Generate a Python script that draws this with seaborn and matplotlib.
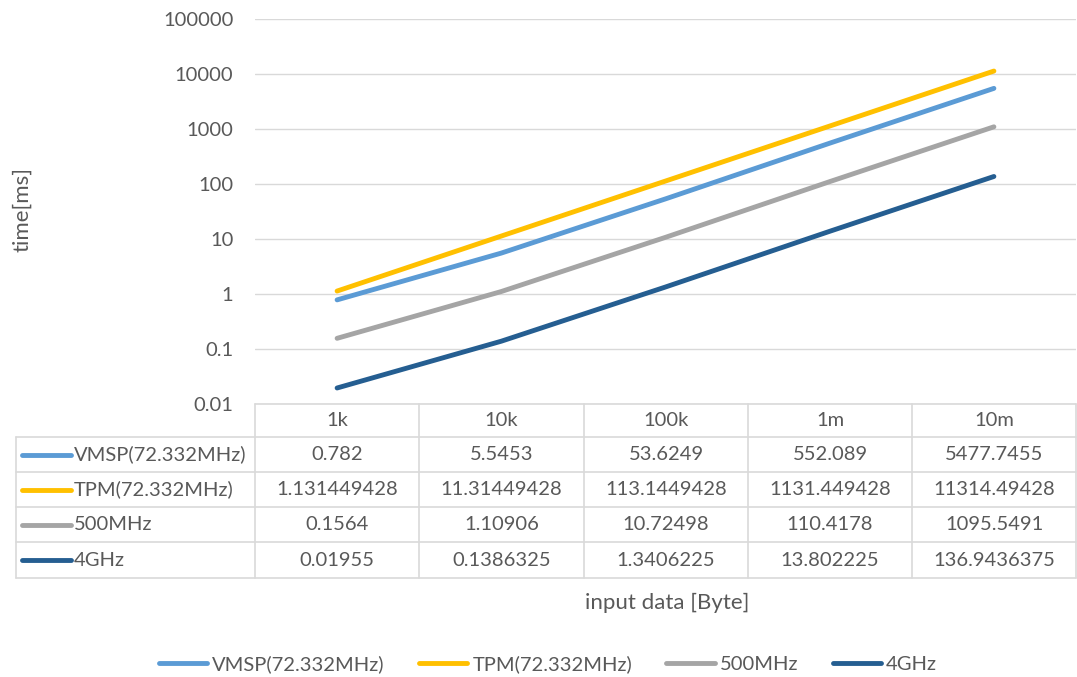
import matplotlib
matplotlib.use("Agg")
import matplotlib.pyplot as plt
import seaborn as sns
import pandas as pd
from matplotlib.lines import Line2D

categories = ["1k", "10k", "100k", "1m", "10m"]
series_names = ["VMSP(72.332MHz)", "TPM(72.332MHz)", "500MHz", "4GHz"]
vmsp = [0.782, 5.5453, 53.6249, 552.089, 5477.7455]
tpm = [1.131449428, 11.31449428, 113.1449428, 1131.449428, 11314.49428]
mhz500 = [0.1564, 1.10906, 10.72498, 110.4178, 1095.5491]
ghz4 = [0.01955, 0.1386325, 1.3406225, 13.802225, 136.9436375]
yticks = [0.01, 0.1, 1, 10, 100, 1000, 10000, 100000]
ytick_labels = ["0.01", "0.1", "1", "10", "100", "1000", "10000", "100000"]
colors = ["#5B9BD5", "#FFC000", "#A5A5A5", "#255E91"]

all_vals = [vmsp, tpm, mhz500, ghz4]
rows = []
for name, vals in zip(series_names, all_vals):
    for i, (c, v) in enumerate(zip(categories, vals)):
        rows.append({"series": name, "pos": i, "cat": c, "value": v})
df = pd.DataFrame(rows)

sns.set_theme(style="white")
plt.rcParams["font.family"] = ["Lato", "DejaVu Sans"]
TXT = "#595959"
GRID = "#D9D9D9"
FS = 14.5
TFS = 16
LW = 3.5

W, H = 1077, 677
fig = plt.figure(figsize=(W / 100, H / 100), dpi=100)
def fx(px): return px / W
def fy(py): return 1 - py / H

ax = fig.add_axes([fx(255), fy(404), fx(1076) - fx(255), fy(19) - fy(404)])
sns.lineplot(data=df, x="pos", y="value", hue="series", hue_order=series_names,
             palette=colors, linewidth=LW, ax=ax, legend=False, sort=False)
ax.set_yscale("log")
ax.set_ylim(0.01, 100000)
ax.set_xlim(-0.5, len(categories) - 0.5)
ax.set_yticks(yticks)
ax.set_yticklabels(ytick_labels, color=TXT, fontsize=FS)
ax.yaxis.set_minor_locator(matplotlib.ticker.NullLocator())
ax.set_xticks([])
ax.set_xlabel("")
ax.set_ylabel("")
ax.tick_params(axis="y", length=0, pad=15.5)
ax.grid(axis="y", color=GRID, linewidth=1.0)
ax.set_axisbelow(True)
for s in ax.spines.values():
    s.set_visible(False)

fig.text(fx(22), fy(210), "time[ms]", rotation=90, ha="center", va="center",
         color=TXT, fontsize=TFS)

# data table
col_edges = [255, 419, 584, 748, 912, 1076]
row_edges = [404, 437, 472, 507, 542, 578]
def hline(y, x0, x1):
    fig.add_artist(Line2D([fx(x0), fx(x1)], [fy(y), fy(y)], color=GRID, lw=1.2))
def vline(x, y0, y1):
    fig.add_artist(Line2D([fx(x), fx(x)], [fy(y0), fy(y1)], color=GRID, lw=1.2))

hline(404, 255, 1076)
for y in row_edges[1:]:
    hline(y, 16, 1076)
vline(16, 437, 578)
for x in col_edges:
    vline(x, 404, 578)

for j, c in enumerate(categories):
    xc = (col_edges[j] + col_edges[j + 1]) / 2
    fig.text(fx(xc), fy(421), c, ha="center", va="center", color=TXT, fontsize=FS)

for i, (name, vals, col) in enumerate(zip(series_names, all_vals, colors)):
    yc = (row_edges[i + 1] + row_edges[i + 2]) / 2
    fig.add_artist(Line2D([fx(22), fx(71)], [fy(yc), fy(yc)], color=col, lw=LW,
                          solid_capstyle="round"))
    fig.text(fx(74), fy(yc), name, ha="left", va="center", color=TXT, fontsize=FS)
    for j, v in enumerate(vals):
        xc = (col_edges[j] + col_edges[j + 1]) / 2
        fig.text(fx(xc), fy(yc), repr(v), ha="center", va="center", color=TXT, fontsize=FS)

fig.text(fx(667), fy(603), "input data [Byte]", ha="center", va="center",
         color=TXT, fontsize=TFS)

handles = [Line2D([0], [0], color=c, lw=LW, solid_capstyle="round") for c in colors]
fig.legend(handles, series_names, loc="center", bbox_to_anchor=(fx(548), fy(664)),
           ncol=4, frameon=False, fontsize=FS, labelcolor=TXT, handlelength=2.4,
           handletextpad=0.25, columnspacing=1.7)

fig.savefig("out.png", dpi=100)
